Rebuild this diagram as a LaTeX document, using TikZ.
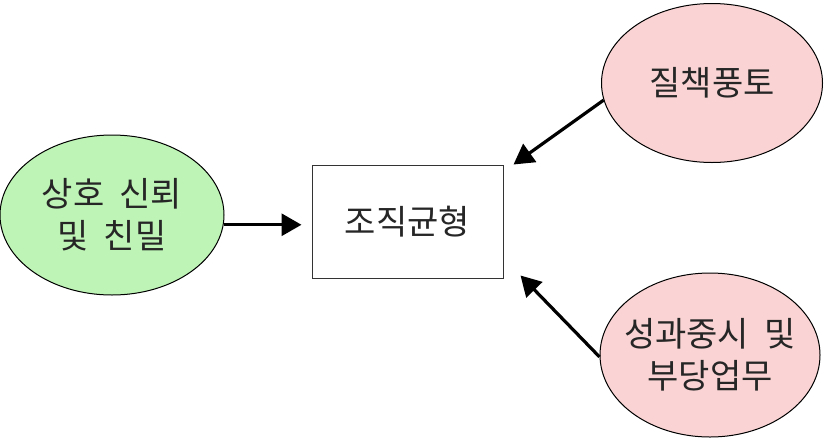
\documentclass[tikz,border=0pt]{standalone}
\usepackage{fontspec}
\newfontfamily\krfont{Noto Sans CJK KR}
\usetikzlibrary{arrows.meta,calc,shapes.geometric}
\definecolor{greenfill}{RGB}{190,244,182}
\definecolor{pinkfill}{RGB}{250,212,212}
\tikzset{
  oval/.style={ellipse, draw=black, line width=1pt, inner sep=-40pt, align=center,
    font=\krfont\fontsize{34}{42}\selectfont, text=black!85},
  box/.style={rectangle, draw=black!80, line width=1pt, inner sep=0pt,
    font=\krfont\fontsize{34}{42}\selectfont, text=black!85},
  arr/.style={line width=3.2pt, -{Triangle[length=20pt,width=22pt]}}
}
\begin{document}
\begin{tikzpicture}[x=1pt,y=-1pt]
\useasboundingbox (0,0) rectangle (827,440);
\node[oval, fill=greenfill, minimum width=224pt, minimum height=160pt] (L) at (112,215) {상호\hspace{0.45em}신뢰\\및\hspace{0.45em}친밀};
\node[box, minimum width=191pt, minimum height=113pt] (R) at (407.5,221.5) {조직균형};
\node[oval, fill=pinkfill, minimum width=221pt, minimum height=159pt] (T) at (712,83) {질책풍토};
\node[oval, fill=pinkfill, minimum width=220pt, minimum height=164pt] (B) at (710,355) {성과중시\hspace{0.45em}및\\부당업무};
\draw[arr, shorten >=10pt] (L.-5.7) -- (L.-5.7 -| R.west);
\draw[arr] (T.189) -- ($(R.north east)+(10,0)$);
\draw[arr] (B.181) -- ($(R.south east)+(17,-3)$);
\end{tikzpicture}
\end{document}
